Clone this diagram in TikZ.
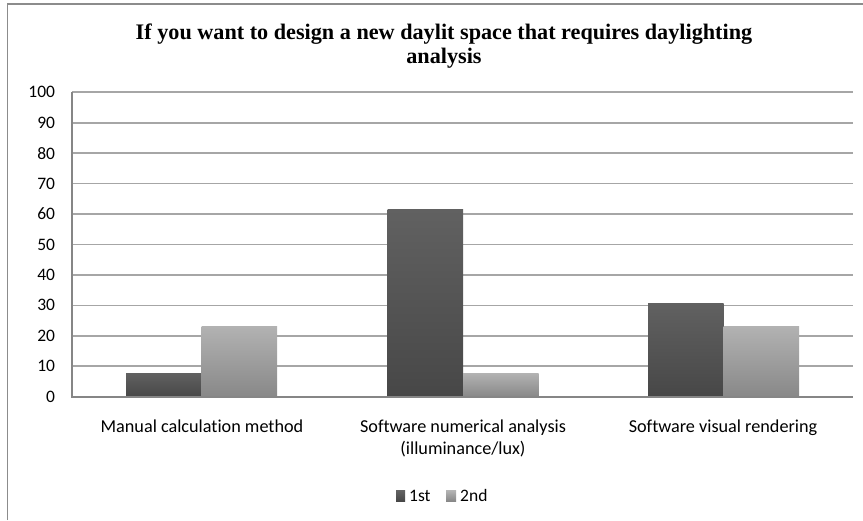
\documentclass[tikz,border=0pt]{standalone}
\usepackage{fontspec}
\setmainfont{Carlito}[Ligatures=NoCommon]
\newfontfamily\titlefont{Liberation Serif}
\usetikzlibrary{positioning}

\definecolor{framegray}{HTML}{8C8C8C}
\definecolor{gridgray}{HTML}{A6A6A6}
\definecolor{axisgray}{HTML}{868686}
\definecolor{darktop}{HTML}{616161}
\definecolor{darkbot}{HTML}{474747}
\definecolor{lighttop}{HTML}{B2B2B2}
\definecolor{lightbot}{HTML}{888888}

\tikzset{
    gridline/.style={draw=gridgray, line width=1.6pt},
    ticklabel/.style={anchor=east, inner sep=0pt, font=\fontsize{17.5}{20}\selectfont},
    catlabel/.style={align=center, anchor=base, inner sep=0pt, font=\fontsize{18.2}{22}\selectfont},
    firstbar/.style={top color=darktop, bottom color=darkbot, draw=none},
    secondbar/.style={top color=lighttop, bottom color=lightbot, draw=none},
    legtext/.style={anchor=base west, inner sep=0pt, font=\fontsize{17.5}{20}\selectfont}
}

\begin{document}
\begin{tikzpicture}[x=1pt, y=1pt]
    \useasboundingbox (0,0) rectangle (863,520);
    %chart frame, only left and top edges are visible
    \draw[framegray, line width=1.4pt] (7.3,0) -- (7.3,516) -- (863,516);

    %base of a two-line node is its last line
    \node[font=\titlefont\bfseries\fontsize{22.2}{24}\selectfont, align=center, anchor=base, inner sep=0pt] (title) at (444,456.7)
        {If you want to design a new daylit space that requires daylighting\\analysis};

    \begin{scope}[yshift=123.3pt, y=3.044pt]
        %gridlines
        \draw[gridline] (72.3,10) -- (853.3,10);
        \draw[gridline] (72.3,20) -- (853.3,20);
        \draw[gridline] (72.3,30) -- (853.3,30);
        \draw[gridline] (72.3,40) -- (853.3,40);
        \draw[gridline] (72.3,50) -- (853.3,50);
        \draw[gridline] (72.3,60) -- (853.3,60);
        \draw[gridline] (72.3,70) -- (853.3,70);
        \draw[gridline] (72.3,80) -- (853.3,80);
        \draw[gridline] (72.3,90) -- (853.3,90);
        \draw[gridline] (72.3,100) -- (853.3,100);

        %bars
        \path[firstbar]  (126,0) rectangle (201.5,7.69);
        \path[secondbar] (201.5,0) rectangle (277,23.08);
        \path[firstbar]  (387.5,0) rectangle (463,61.54);
        \path[secondbar] (463,0) rectangle (538.5,7.69);
        \path[firstbar]  (648,0) rectangle (723.5,30.77);
        \path[secondbar] (723.5,0) rectangle (799,23.08);

        %axes
        \draw[axisgray, line width=2pt] (72.3,100) -- (72.3,0) -- (853.3,0);

        \draw node[ticklabel] (t0) at (55.3,0) {0};
        \draw node[ticklabel] (t10) at (55.3,10) {10};
        \draw node[ticklabel] (t20) at (55.3,20) {20};
        \draw node[ticklabel] (t30) at (55.3,30) {30};
        \draw node[ticklabel] (t40) at (55.3,40) {40};
        \draw node[ticklabel] (t50) at (55.3,50) {50};
        \draw node[ticklabel] (t60) at (55.3,60) {60};
        \draw node[ticklabel] (t70) at (55.3,70) {70};
        \draw node[ticklabel] (t80) at (55.3,80) {80};
        \draw node[ticklabel] (t90) at (55.3,90) {90};
        \draw node[ticklabel] (t100) at (55.3,100) {100};
    \end{scope}

    \draw node[catlabel] (manual) at (202,87) {Manual calculation method};
    \draw node[catlabel] (numeric) at (463,65) {Software numerical analysis\\(illuminance/lux)};
    \draw node[catlabel] (visual) at (723,87) {Software visual rendering};

    %legend
    \path[firstbar] (396,19) rectangle (405,29);
    \draw node[legtext] (first) at (409,19) {1st};
    \path[secondbar] (446,19) rectangle (456,29);
    \draw node[legtext] (second) at (460,19) {2nd};
\end{tikzpicture}
\end{document}
